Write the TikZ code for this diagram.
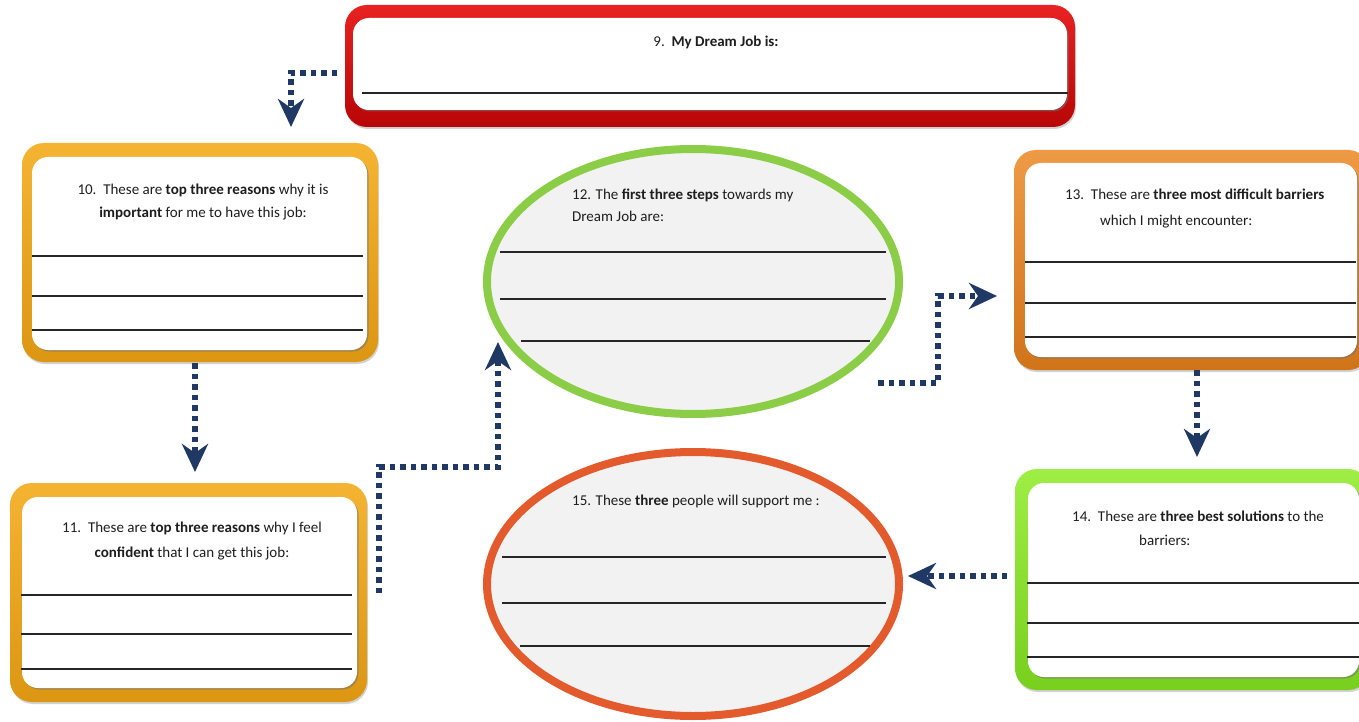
\documentclass[tikz,border=0pt]{standalone}
\usepackage{fontspec}
\setmainfont{Carlito}
\usetikzlibrary{arrows.meta,shapes.geometric,shadows}
\definecolor{navy}{HTML}{1F3864}
\definecolor{txtcol}{HTML}{1E1E1E}
\definecolor{redT}{HTML}{E82222}
\definecolor{redM}{HTML}{D20A0A}
\definecolor{redB}{HTML}{B80606}
\definecolor{ylwT}{HTML}{F4B432}
\definecolor{ylwM}{HTML}{EEA720}
\definecolor{ylwB}{HTML}{DC9612}
\definecolor{orgT}{HTML}{EE9A45}
\definecolor{orgM}{HTML}{E8872A}
\definecolor{orgB}{HTML}{D0741A}
\definecolor{limT}{HTML}{9EEE45}
\definecolor{limM}{HTML}{8CE62A}
\definecolor{limB}{HTML}{78CF1E}
\definecolor{ringG}{HTML}{8CCD48}
\definecolor{ringO}{HTML}{E35A2C}
\definecolor{ellfill}{HTML}{F2F2F2}
\begin{document}
\begin{tikzpicture}[x=1pt,y=-1pt,
  frame/.style={rounded corners=22pt, inner sep=0pt, outer sep=0pt,
    drop shadow={shadow xshift=1pt, shadow yshift=-2pt, opacity=0.35}},
  panel/.style={fill=white, rounded corners=16pt, inner sep=0pt, outer sep=0pt,
    drop shadow={shadow xshift=1.5pt, shadow yshift=-1.5pt, opacity=0.55, fill=black!55}},
  redframe/.style={frame, top color=redT, middle color=redM, bottom color=redB},
  ylwframe/.style={frame, top color=ylwT, middle color=ylwM, bottom color=ylwB},
  orgframe/.style={frame, top color=orgT, middle color=orgM, bottom color=orgB},
  limframe/.style={frame, top color=limT, middle color=limM, bottom color=limB},
  oval/.style={ellipse, inner sep=0pt, outer sep=0pt, fill=ellfill, line width=8pt,
    drop shadow={shadow xshift=1pt, shadow yshift=-2pt, opacity=0.3}},
  wline/.style={line width=1.1pt, draw=black!85},
  txt/.style={font=\fontsize{15}{18}\selectfont, text=txtcol, inner sep=0pt},
  conn/.style={draw=navy, line width=5.5pt, dash pattern=on 5.5pt off 5pt,
    -{Stealth[length=28pt,width=26pt,inset=9pt]}}
]
\useasboundingbox (0,0) rectangle (1359,722);
\clip (0,0) rectangle (1359,722);
\fill[white] (0,0) rectangle (1359,722);

% ---------- Box 9 ----------
\node[redframe, minimum width=730pt, minimum height=122pt] (b9) at (710,66) {};
\node[panel, minimum width=714pt, minimum height=92pt] (p9) at (710,64) {};
\node[txt, anchor=base] (t9) at (716,47) {9.\ \ \textbf{My Dream Job is:}};
\draw[wline] (362,93) -- (1068,93);

% ---------- Box 10 ----------
\node[ylwframe, minimum width=356pt, minimum height=219pt] (b10) at (200,252.5) {};
\node[panel, minimum width=335pt, minimum height=193pt] (p10) at (199.5,253.5) {};
\node[txt, anchor=base] (t10a) at (203,195) {10.\ \ These are \textbf{top three reasons} why it is};
\node[txt, anchor=base] (t10b) at (203,218) {\textbf{important} for me to have this job:};
\draw[wline] (32,256) -- (363,256);
\draw[wline] (32,296) -- (363,296);
\draw[wline] (32,330) -- (363,330);

% ---------- Box 11 ----------
\node[ylwframe, minimum width=357pt, minimum height=219pt] (b11) at (188.5,592.5) {};
\node[panel, minimum width=335pt, minimum height=191pt] (p11) at (189.5,592.5) {};
\node[txt, anchor=base] (t11a) at (192,532) {11.\ \ These are \textbf{top three reasons} why I feel};
\node[txt, anchor=base] (t11b) at (192,557) {\textbf{confident} that I can get this job:};
\draw[wline] (21,595) -- (352,595);
\draw[wline] (21,634) -- (352,634);
\draw[wline] (21,669) -- (352,669);

% ---------- Ellipse 12 ----------
\node[oval, draw=ringG, minimum width=412pt, minimum height=265pt] (e12) at (693,281.5) {};
\node[txt, anchor=base west] (t12a) at (572,200) {12. The \textbf{first three steps} towards my};
\node[txt, anchor=base west] (t12b) at (572,221) {Dream Job are:};
\draw[wline] (500,252) -- (886,252);
\draw[wline] (500,299) -- (886,299);
\draw[wline] (521,341) -- (870,341);

% ---------- Ellipse 15 ----------
\node[oval, draw=ringO, minimum width=412pt, minimum height=264pt] (e15) at (693,584) {};
\node[txt, anchor=base west] (t15) at (572,505) {15. These \textbf{three} people will support me :};
\draw[wline] (502,557) -- (886,557);
\draw[wline] (502,603) -- (886,603);
\draw[wline] (520,646) -- (870,646);

% ---------- Box 13 ----------
\node[orgframe, minimum width=356pt, minimum height=220pt] (b13) at (1192,260) {};
\node[panel, minimum width=332pt, minimum height=194pt] (p13) at (1191,260) {};
\node[txt, anchor=base west] (t13a) at (1065,200) {13.\ \ These are \textbf{three most difficult barriers}};
\node[txt, anchor=base west] (t13b) at (1100,225) {which I might encounter:};
\draw[wline] (1025,262) -- (1356,262);
\draw[wline] (1025,303) -- (1356,303);
\draw[wline] (1025,337) -- (1356,337);

% ---------- Box 14 ----------
\node[limframe, minimum width=355pt, minimum height=221pt] (b14) at (1192.5,579.5) {};
\node[panel, minimum width=331pt, minimum height=194pt] (p14) at (1193.5,580) {};
\node[txt, anchor=base west] (t14a) at (1072,521) {14.\ \ These are \textbf{three best solutions} to the};
\node[txt, anchor=base west] (t14b) at (1139,545) {barriers:};
\draw[wline] (1027,583) -- (1359,583);
\draw[wline] (1027,623) -- (1359,623);
\draw[wline] (1027,657) -- (1359,657);

% ---------- Connectors ----------
\coordinate (a1s) at (337,73);
\coordinate (a1e) at (291,127);
\coordinate (a2s) at (195,363);
\coordinate (a2e) at (195,472);
\coordinate (a3s) at (379,593);
\coordinate (a3m) at (498,467);
\coordinate (a3e) at (498,342);
\coordinate (a4s) at (878,383);
\coordinate (a4m) at (938,296);
\coordinate (a4e) at (997,296);
\coordinate (a5s) at (1197,370);
\coordinate (a5e) at (1197,457);
\coordinate (a6s) at (1007,576);
\coordinate (a6e) at (908,576);

\draw[conn] (a1s) -| (a1e);
\draw[conn] (a2s) -- (a2e);
\draw[conn] (a3s) |- (a3m) -- (a3e);
\draw[conn] (a4s) -| (a4m) -- (a4e);
\draw[conn] (a5s) -- (a5e);
\draw[conn] (a6s) -- (a6e);
\end{tikzpicture}
\end{document}
